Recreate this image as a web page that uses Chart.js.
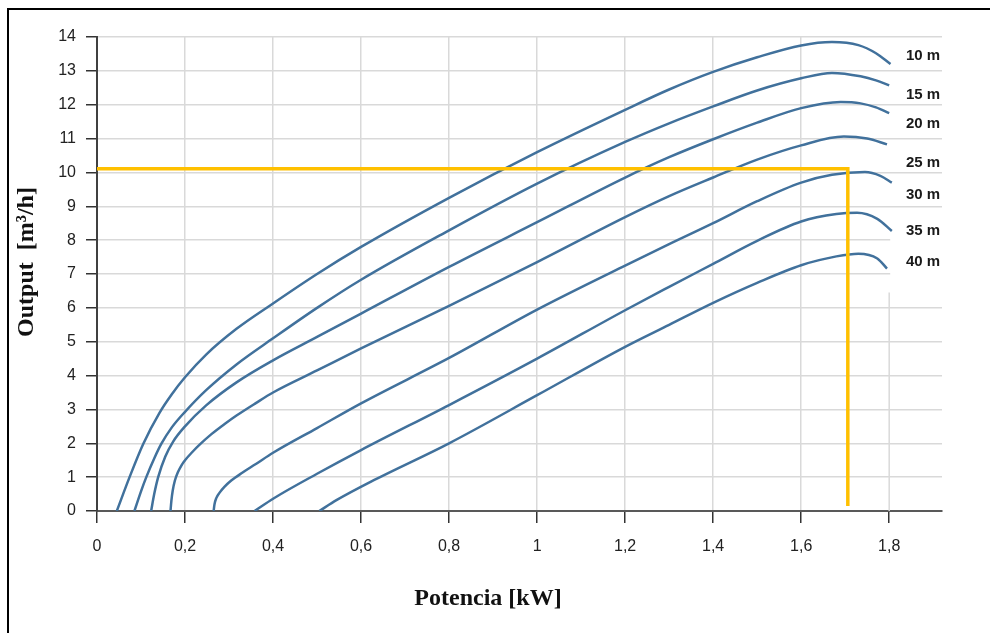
<!DOCTYPE html>
<html>
<head>
<meta charset="utf-8">
<script src="https://cdn.jsdelivr.net/npm/chart.js@4.4.0/dist/chart.umd.min.js"></script>
<style>
  html, body { margin: 0; padding: 0; background: #fff; overflow: hidden; }
  #wrap { position: relative; width: 990px; height: 633px; }
  #marco { position: absolute; left: 7px; top: 8px; width: 1000px; height: 700px; border-top: 2px solid #000; border-left: 2px solid #000; }
  canvas { position: absolute; left: 0; top: 0; }
</style>
</head>
<body>
<div id="wrap">
  <div id="marco"></div>
  <canvas id="grafik" width="990" height="633"></canvas>
</div>
<script>
// ejes
const xTicks = [0, 0.2, 0.4, 0.6, 0.8, 1, 1.2, 1.4, 1.6, 1.8];
const yTicks = [0, 1, 2, 3, 4, 5, 6, 7, 8, 9, 10, 11, 12, 13, 14];

// alturas de cada curva
const alturas = ['10 m', '15 m', '20 m', '25 m', '30 m', '35 m', '40 m'];

// curvas potencia [kW] -> caudal [m3/h]
const pot10 = [0.045, 0.074, 0.105, 0.142, 0.17, 0.2, 0.248, 0.317, 0.4, 0.5, 0.6, 0.8, 1.0, 1.2, 1.3, 1.4, 1.5, 1.6, 1.67, 1.73, 1.77, 1.803];
const caudal10 = [0, 1.0, 1.98, 2.9, 3.45, 3.95, 4.62, 5.38, 6.13, 7.0, 7.8, 9.25, 10.6, 11.85, 12.45, 12.97, 13.4, 13.75, 13.85, 13.76, 13.52, 13.2];

const pot15 = [0.085, 0.1, 0.112, 0.13, 0.146, 0.17, 0.2, 0.248, 0.317, 0.4, 0.5, 0.6, 0.8, 1.0, 1.2, 1.3, 1.4, 1.5, 1.6, 1.67, 1.735, 1.77, 1.80];
const caudal15 = [0, 0.58, 1.0, 1.55, 1.98, 2.47, 2.93, 3.57, 4.33, 5.1, 6.0, 6.83, 8.29, 9.67, 10.9, 11.45, 11.95, 12.42, 12.78, 12.94, 12.84, 12.72, 12.57];

const pot20 = [0.123, 0.13, 0.139, 0.155, 0.173, 0.2, 0.248, 0.317, 0.4, 0.5, 0.6, 0.8, 1.0, 1.2, 1.3, 1.4, 1.5, 1.6, 1.69, 1.735, 1.77, 1.80];
const caudal20 = [0, 0.5, 1.0, 1.6, 2.05, 2.5, 3.12, 3.8, 4.45, 5.14, 5.83, 7.21, 8.53, 9.85, 10.45, 10.98, 11.47, 11.9, 12.08, 12.04, 11.92, 11.75];

const pot25 = [0.167, 0.169, 0.172, 0.177, 0.184, 0.192, 0.2, 0.215, 0.235, 0.26, 0.29, 0.317, 0.36, 0.4, 0.5, 0.6, 0.8, 1.0, 1.2, 1.3, 1.4, 1.5, 1.6, 1.697, 1.75, 1.795];
const caudal25 = [0, 0.3, 0.6, 0.9, 1.15, 1.35, 1.5, 1.72, 1.98, 2.27, 2.57, 2.82, 3.18, 3.5, 4.15, 4.8, 6.06, 7.35, 8.68, 9.3, 9.85, 10.38, 10.8, 11.06, 11.0, 10.83];

const pot30 = [0.265, 0.267, 0.271, 0.279, 0.29, 0.305, 0.33, 0.36, 0.4, 0.5, 0.6, 0.8, 1.0, 1.2, 1.3, 1.4, 1.5, 1.6, 1.67, 1.745, 1.78, 1.806];
const caudal30 = [0, 0.2, 0.38, 0.55, 0.72, 0.9, 1.13, 1.38, 1.72, 2.45, 3.18, 4.52, 5.95, 7.25, 7.88, 8.5, 9.15, 9.7, 9.93, 10.01, 9.9, 9.7];

const pot35 = [0.358, 0.401, 0.5, 0.6, 0.8, 1.0, 1.2, 1.3, 1.4, 1.5, 1.6, 1.68, 1.727, 1.773, 1.806];
const caudal35 = [0, 0.37, 1.1, 1.8, 3.13, 4.5, 5.93, 6.62, 7.3, 7.98, 8.55, 8.77, 8.81, 8.63, 8.27];

const pot40 = [0.505, 0.544, 0.629, 0.8, 1.0, 1.2, 1.3, 1.4, 1.5, 1.6, 1.68, 1.73, 1.773, 1.795];
const caudal40 = [0, 0.32, 0.91, 2.0, 3.42, 4.85, 5.5, 6.15, 6.74, 7.26, 7.52, 7.6, 7.46, 7.16];

// punto de trabajo (lineas amarillas)
const guiaX = [0, 1.706, 1.706];
const guiaY = [10.11, 10.11, 0.15];

// donde van los textos de altura
const etiquetaX = 1.838;
const etiquetaY = [13.43, 12.29, 11.44, 10.28, 9.34, 8.27, 7.35];

const curvas = [
  [pot10, caudal10], [pot15, caudal15], [pot20, caudal20], [pot25, caudal25],
  [pot30, caudal30], [pot35, caudal35], [pot40, caudal40]
];

const datasets = [{
  label: 'punto',
  data: guiaX.map((v, i) => ({ x: v, y: guiaY[i] })),
  borderColor: '#FFC000',
  borderWidth: 3.5,
  tension: 0,
  pointRadius: 0
}];
curvas.forEach((c, i) => {
  datasets.push({
    label: alturas[i],
    data: c[0].map((v, j) => ({ x: v, y: c[1][j] })),
    borderColor: '#41719C',
    borderWidth: 2.5,
    cubicInterpolationMode: 'monotone',
    pointRadius: 0
  });
});

const extras = {
  id: 'extras',
  beforeDatasetsDraw(chart) {
    const { ctx, chartArea, scales: { x, y } } = chart;
    const x18 = x.getPixelForValue(1.8);
    ctx.save();
    // la rejilla no se ve detras de las etiquetas de abajo
    ctx.fillStyle = '#fff';
    ctx.fillRect(x18 + 1, y.getPixelForValue(8.6), chartArea.right - x18, y.getPixelForValue(6.5) - y.getPixelForValue(8.6));
    // la vertical de 1,8 solo en la parte baja
    ctx.strokeStyle = '#d9d9d9';
    ctx.lineWidth = 1.5;
    ctx.beginPath();
    ctx.moveTo(x18, y.getPixelForValue(6.45));
    ctx.lineTo(x18, y.getPixelForValue(0));
    ctx.stroke();
    ctx.restore();
  },
  afterDatasetsDraw(chart) {
    const { ctx, scales: { x, y } } = chart;
    ctx.save();
    ctx.fillStyle = '#1a1a1a';
    ctx.font = 'bold 15px "Liberation Sans"';
    ctx.textAlign = 'left';
    ctx.textBaseline = 'middle';
    alturas.forEach((t, i) => {
      ctx.fillText(t, x.getPixelForValue(etiquetaX), y.getPixelForValue(etiquetaY[i]));
    });
    ctx.restore();
  },
  afterDraw(chart) {
    const { ctx } = chart;
    ctx.save();
    ctx.fillStyle = '#111';
    ctx.font = 'bold 24px "Liberation Serif"';
    ctx.textAlign = 'center';
    ctx.textBaseline = 'alphabetic';
    ctx.fillText('Potencia [kW]', 488, 605);
    ctx.translate(33, 262);
    ctx.rotate(-Math.PI / 2);
    ctx.fillText('Output  [m³/h]', 0, 0);
    ctx.restore();
  }
};

new Chart(document.getElementById('grafik'), {
  type: 'line',
  data: { datasets: datasets },
  plugins: [extras],
  options: {
    responsive: false,
    animation: false,
    devicePixelRatio: 1,
    layout: { padding: { left: 0, top: 37, right: 48, bottom: 0 } },
    plugins: { legend: { display: false }, tooltip: { enabled: false } },
    scales: {
      x: {
        type: 'linear',
        min: 0,
        max: 1.92,
        afterBuildTicks: s => { s.ticks = xTicks.map(v => ({ value: v })); },
        afterFit: s => { s.height = 122; },
        grid: {
          color: c => (c.tick && c.tick.value === 1.8) ? 'rgba(0,0,0,0)' : '#d9d9d9',
          lineWidth: 1.5,
          tickLength: 12,
          tickColor: '#333',
          tickWidth: 1.5
        },
        border: { color: '#595959', width: 2 },
        ticks: {
          padding: 14,
          color: '#222',
          font: { family: 'Liberation Sans', size: 16 },
          maxRotation: 0,
          autoSkip: false,
          callback: v => String(v).replace('.', ',')
        }
      },
      y: {
        min: 0,
        max: 14,
        afterBuildTicks: s => { s.ticks = yTicks.map(v => ({ value: v })); },
        afterFit: s => { s.width = 97; },
        grid: {
          color: '#d9d9d9',
          lineWidth: 1.5,
          tickLength: 11,
          tickColor: '#333',
          tickWidth: 1.5
        },
        border: { color: '#404040', width: 2 },
        ticks: {
          padding: 10,
          color: '#222',
          font: { family: 'Liberation Sans', size: 16 },
          autoSkip: false
        }
      }
    }
  }
});
</script>
</body>
</html>
